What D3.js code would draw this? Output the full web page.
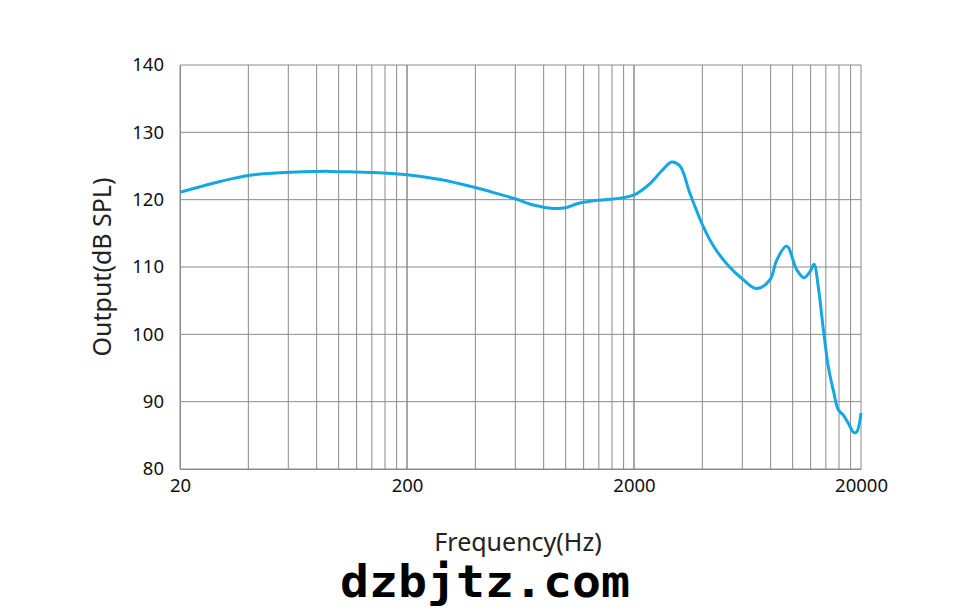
<!DOCTYPE html>
<html><head><meta charset="utf-8">
<script src="https://cdn.jsdelivr.net/npm/d3@7"></script>
<style>body{margin:0;background:#fff;}svg{display:block;}</style>
</head><body>
<svg id="chart" width="976" height="613"></svg>
<script>
const freqs = [20,25,30,40,55,70,92,120,150,200,280,400,500,604,720,879,1000,1122,1300,1568,1800,2000,2352,2650,2932,3188,3530,4038,4500,5118,6062,6942,7944,8506,9414,10418,11220,11926,12417,12972,13646,14356,15102,15886,16712,17580,18632,19152,20000];
const spl   = [121.1,122.0,122.7,123.6,124.0,124.15,124.2,124.1,124.0,123.7,123.0,121.8,120.9,120.1,119.2,118.7,118.8,119.4,119.8,120.05,120.3,120.7,122.4,124.3,125.6,125.0,120.9,116.0,113.0,110.5,108.1,106.8,108.1,111.0,113.1,109.6,108.4,109.3,110.4,107.0,100.8,95.2,91.7,88.8,88.0,86.8,85.4,85.5,88.3];
const yTicks = [80,90,100,110,120,130,140];
const xTickLabels = [20,200,2000,20000];
const gridFreqs = [];
[20,200,2000].forEach(b => { for (let k=1;k<=10;k++) gridFreqs.push(b*k); });

const svg = d3.select("#chart");
const x = d3.scaleLog().domain([20,20000]).range([180,861]);
const y = d3.scaleLinear().domain([80,140]).range([469,65]);
const font = "'Noto Sans', 'Open Sans', sans-serif";

const g = svg.append("g");
g.selectAll("line.v").data(gridFreqs).enter().append("line")
  .attr("x1",d=>x(d)).attr("x2",d=>x(d)).attr("y1",y(80)).attr("y2",y(140))
  .attr("stroke","#8a8a8a").attr("stroke-width",1);
g.selectAll("line.h").data(yTicks).enter().append("line")
  .attr("x1",x(20)).attr("x2",x(20000)).attr("y1",d=>y(d)).attr("y2",d=>y(d))
  .attr("stroke","#8a8a8a").attr("stroke-width",1);

const yAxis = svg.append("g").attr("transform","translate(180,0)")
  .call(d3.axisLeft(y).tickValues(yTicks).tickSize(0).tickPadding(16));
yAxis.select(".domain").attr("stroke","#8a8a8a");
yAxis.selectAll("text").attr("font-family",font).attr("font-size",18.5).attr("fill","#111");

const xAxis = svg.append("g").attr("transform","translate(0,469)")
  .call(d3.axisBottom(x).tickValues(xTickLabels).tickFormat(d3.format("d")).tickSize(0).tickPadding(10));
xAxis.select(".domain").attr("stroke","#8a8a8a");
xAxis.selectAll("text").attr("font-family",font).attr("font-size",18.5).attr("fill","#111");

const line = d3.line().x((d,i)=>x(freqs[i])).y(d=>y(d)).curve(d3.curveCatmullRom.alpha(0.5));
svg.append("path").datum(spl).attr("d",line).attr("fill","none")
  .attr("stroke","#13a8e2").attr("stroke-width",3).attr("stroke-linejoin","round");

svg.append("text").attr("transform","translate(111,267) rotate(-90)")
  .attr("text-anchor","middle").attr("font-family",font).attr("font-size",25).attr("fill","#222")
  .text("Output(dB SPL)");
svg.append("text").attr("x",518).attr("y",551).attr("text-anchor","middle")
  .attr("font-family",font).attr("font-size",25).attr("fill","#222").text("Frequency(Hz)");
svg.append("text").attr("x",340).attr("y",597).attr("textLength",290).attr("lengthAdjust","spacingAndGlyphs")
  .attr("font-family","'DejaVu Sans Mono', monospace").attr("font-weight","bold").attr("font-size",44).attr("fill","#000")
  .text("dzbjtz.com");
</script>
</body></html>
